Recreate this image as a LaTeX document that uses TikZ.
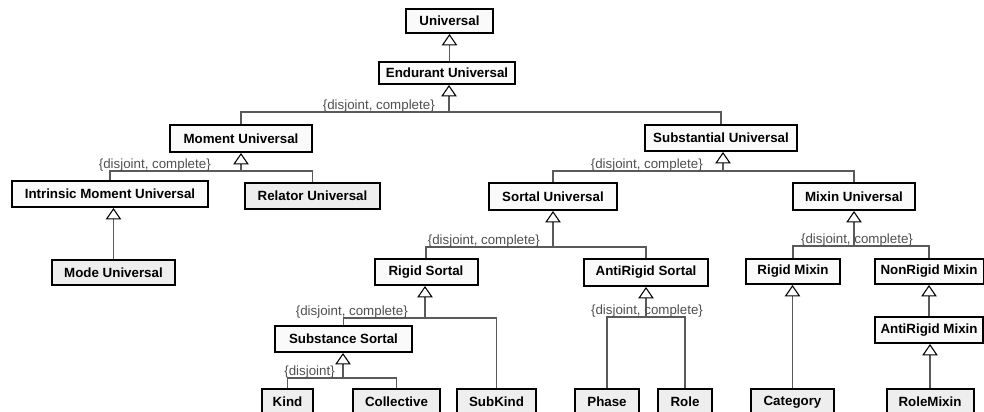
\documentclass[tikz,border=0pt]{standalone}
\usepackage{fontspec}
\setmainfont{Liberation Sans}
\usetikzlibrary{arrows.meta}
\definecolor{edgegray}{HTML}{5A5A5A}
\definecolor{lblgray}{HTML}{505050}
\definecolor{wfill}{HTML}{FAFAFA}
\definecolor{gfill}{HTML}{EEEEEE}
\begin{document}
\begin{tikzpicture}[x=0.75pt,y=-0.75pt,
  cls/.style 2 args={draw=black, line width=1.5pt, inner sep=0pt,
    minimum width=#1*0.75pt, minimum height=#2*0.75pt,
    font=\bfseries\fontsize{10pt}{12pt}\selectfont},
  wbox/.style 2 args={cls={#1}{#2}, fill=wfill},
  gbox/.style 2 args={cls={#1}{#2}, fill=gfill},
  edge/.style={draw=edgegray, line width=1.1pt},
  gen/.style={edge, -{Triangle[open, width=11.5pt, length=8.5pt, line width=0.8pt, color=black]}},
  gslabel/.style={inner sep=0pt, text=lblgray, font=\fontsize{10pt}{12pt}\selectfont}
]
\path[use as bounding box] (0,0) rectangle (984,411);
\clip (0,0) rectangle (984,411);
\fill[white] (0,0) rectangle (984,411);

% classes
\node[wbox={87}{24}] (universal) at (449.5,21) {Universal};
\node[wbox={136}{22}] (endurant) at (447,73) {Endurant Universal};
\node[wbox={142}{27}] (moment) at (241,138.5) {Moment Universal};
\node[wbox={152}{26}] (substantial) at (721,138) {Substantial Universal};
\node[wbox={196}{26}] (intrinsic) at (110,194) {Intrinsic Moment Universal};
\node[gbox={135}{26}] (relator) at (312.5,196) {Relator Universal};
\node[gbox={123}{25}] (mode) at (113.5,272.5) {Mode Universal};
\node[wbox={128}{27}] (sortal) at (553,196.5) {Sortal Universal};
\node[wbox={122}{27}] (mixin) at (854,196.5) {Mixin Universal};
\node[wbox={103}{26}] (rigidsortal) at (426,272) {Rigid Sortal};
\node[wbox={124}{27}] (antirigidsortal) at (646,272.5) {AntiRigid Sortal};
\node[wbox={94}{25}] (rigidmixin) at (793,271.5) {Rigid Mixin};
\node[wbox={109}{25}] (nonrigidmixin) at (929,271.5) {NonRigid Mixin};
\node[wbox={108}{26}] (antirigidmixin) at (929,330) {AntiRigid Mixin};
\node[wbox={137}{26}] (substancesortal) at (343.5,339) {Substance Sortal};
\node[gbox={51}{26}] (kind) at (287.5,402) {Kind};
\node[gbox={87}{26}] (collective) at (396.5,402) {Collective};
\node[gbox={79}{26}] (subkind) at (496.5,402) {SubKind};
\node[gbox={64}{26}] (phase) at (607,402) {Phase};
\node[gbox={54}{26}] (role) at (685,402) {Role};
\node[gbox={83}{26}] (category) at (792.5,402) {Category};
\node[gbox={87}{26}] (rolemixin) at (930,402) {RoleMixin};

% generalization junctions
\coordinate (g1) at (449,112);
\coordinate (g2) at (241,171);
\coordinate (g3) at (723,171);
\coordinate (g4) at (553,247);
\coordinate (g5) at (854,246);
\coordinate (g6) at (425,318);
\coordinate (g7) at (646,317);
\coordinate (g8) at (343,378);

% generalizations
\draw[gen] (endurant.north -| universal.south) -- (universal.south);

\draw[edge] (moment.north) |- (g1) -| (substantial.north);
\draw[gen] (g1) -- (g1 |- endurant.south);

\draw[edge] (intrinsic.north) |- (g2) -| (relator.north);
\draw[gen] (g2) -- (g2 |- moment.south);

\draw[gen] (mode.north) -- (mode.north |- intrinsic.south);

\draw[edge] (sortal.north) |- (g3) -| (mixin.north);
\draw[gen] (g3) -- (g3 |- substantial.south);

\draw[edge] (rigidsortal.north) |- (g4) -| (antirigidsortal.north);
\draw[gen] (g4) -- (g4 |- sortal.south);

\draw[edge] (rigidmixin.north) |- (g5) -| (nonrigidmixin.north);
\draw[gen] (g5) -- (g5 |- mixin.south);

\draw[edge] (substancesortal.north) |- (g6) -| (subkind.north);
\draw[gen] (g6) -- (g6 |- rigidsortal.south);

\draw[edge] (phase.north) |- (g7) -| (role.north);
\draw[gen] (g7) -- (g7 |- antirigidsortal.south);

\draw[edge] (kind.north) |- (g8) -| (collective.north);
\draw[gen] (g8) -- (g8 |- substancesortal.south);

\draw[gen] (category.north) -- (category.north |- rigidmixin.south);
\draw[gen] (antirigidmixin.north) -- (antirigidmixin.north |- nonrigidmixin.south);
\draw[gen] (rolemixin.north) -- (rolemixin.north |- antirigidmixin.south);

% generalization set labels
\node[gslabel, anchor=base east] (l1) at (435,109) {\{disjoint, complete\}};
\node[gslabel, anchor=base east] (l2) at (211,168) {\{disjoint, complete\}};
\node[gslabel, anchor=base east] (l3) at (703,168) {\{disjoint, complete\}};
\node[gslabel, anchor=base east] (l4) at (540,244) {\{disjoint, complete\}};
\node[gslabel, anchor=base] (l5) at (857,243) {\{disjoint, complete\}};
\node[gslabel, anchor=base east] (l6) at (408,315) {\{disjoint, complete\}};
\node[gslabel, anchor=base] (l7) at (647,314) {\{disjoint, complete\}};
\node[gslabel, anchor=base east] (l8) at (335,375) {\{disjoint\}};
\end{tikzpicture}
\end{document}
